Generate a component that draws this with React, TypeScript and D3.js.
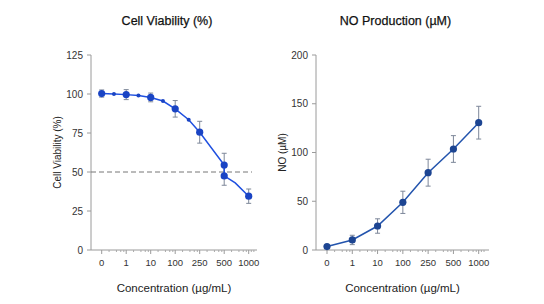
import React from "react";
import * as d3 from "d3";

// dose categories shared by both panels (evenly spaced on x)
const doses = ["0", "1", "10", "100", "250", "500", "1000"];

// cell viability (%), positions are in dose-index units
const viabPos = [0, 0.5, 1, 1.5, 2, 2.5, 3, 3.55, 4, 5, 5, 5.45, 6];
const viabMean = [100.3, 100, 99.6, 99, 97.8, 95.5, 90.5, 83.5, 75.5, 54.5, 47.5, 43, 34.5];
const viabSd = [2.3, 0, 3.2, 0, 2.8, 0, 5.3, 0, 7, 7.5, 6, 0, 4.6];
const viabKind = ["main", "sub", "main", "sub", "main", "sub", "main", "sub", "main", "main", "main", "none", "main"];
const viabTicks = [0, 25, 50, 75, 100, 125];

// nitric oxide release (µM)
const noPos = [0, 1, 2, 3, 4, 5, 6];
const noMean = [3.5, 10.3, 24.6, 48.9, 79.3, 103.6, 130.6];
const noSd = [1, 4.8, 7.4, 11.4, 13.8, 13.7, 16.8];
const noKind = ["main", "main", "main", "main", "main", "main", "main"];
const noTicks = [0, 50, 100, 150, 200];

const font = "'Liberation Sans', Arial, Helvetica, sans-serif";
const minorFrac = [2, 4, 6, 8].map((v) => Math.log10(v));

type PanelProps = {
  title: string;
  yLabel: string;
  axisX: number;
  axisEnd: number;
  x0: number;
  x1: number;
  yMax: number;
  yTicks: number[];
  pos: number[];
  mean: number[];
  sd: number[];
  kind: string[];
  lineColor: string;
  dotColor: string;
  threshold?: number;
};

function Panel(p: PanelProps) {
  const top = 55;
  const bottom = 250;
  const x = d3.scaleLinear().domain([0, doses.length - 1]).range([p.x0, p.x1]);
  const y = d3.scaleLinear().domain([0, p.yMax]).range([bottom, top]);
  const pts = p.pos.map((v, i) => ({ x: v, y: p.mean[i], sd: p.sd[i], kind: p.kind[i] }));
  const line = d3
    .line<{ x: number; y: number }>()
    .x((d) => x(d.x))
    .y((d) => y(d.y));

  const minor: number[] = [];
  for (let i = 0; i < doses.length - 1; i++) minorFrac.forEach((f) => minor.push(i + f));
  minor.push(...minorFrac.slice(0, 2).map((f) => doses.length - 1 + f * 0.35));

  const cx = (p.axisX + p.axisEnd) / 2;
  return (
    <g fontFamily={font}>
      <text x={cx - 7} y={25} textAnchor="middle" fontSize={12.5} fontWeight={400} fill="#111" stroke="#111" strokeWidth={0.25}>
        {p.title}
      </text>
      {/* y axis */}
      <line x1={p.axisX} x2={p.axisX} y1={top} y2={bottom} stroke="#9a9a9a" />
      {p.yTicks.map((t) => (
        <g key={t} transform={`translate(${p.axisX},${y(t)})`}>
          <line x1={-4} x2={0} stroke="#9a9a9a" />
          <text x={-8} dy="0.35em" textAnchor="end" fontSize={10} fill="#333">
            {t}
          </text>
        </g>
      ))}
      <text
        transform={`translate(${p.axisX - 30},${(top + bottom) / 2}) rotate(-90)`}
        textAnchor="middle"
        fontSize={10}
        fill="#222"
      >
        {p.yLabel}
      </text>
      {/* x axis */}
      <line x1={p.axisX} x2={p.axisEnd} y1={bottom} y2={bottom} stroke="#9a9a9a" />
      {minor.map((m, i) => (
        <line key={i} x1={x(m)} x2={x(m)} y1={bottom} y2={bottom + 2} stroke="#aaa" />
      ))}
      {doses.map((d, i) => (
        <g key={d} transform={`translate(${x(i)},${bottom})`}>
          <line y1={0} y2={4} stroke="#9a9a9a" />
          <text y={16} textAnchor="middle" fontSize={9.5} fill="#333">
            {d}
          </text>
        </g>
      ))}
      <text x={cx} y={292} textAnchor="middle" fontSize={11.5} fill="#222">
        Concentration (µg/mL)
      </text>
      {p.threshold !== undefined && (
        <line
          x1={p.axisX}
          x2={p.axisEnd - 5}
          y1={y(p.threshold)}
          y2={y(p.threshold)}
          stroke="#777"
          strokeDasharray="5,3"
        />
      )}
      {/* error bars */}
      {pts
        .filter((d) => d.sd > 0)
        .map((d, i) => (
          <g key={i} stroke="#7d8799" strokeWidth={1}>
            <line x1={x(d.x)} x2={x(d.x)} y1={y(d.y - d.sd)} y2={y(d.y + d.sd)} />
            <line x1={x(d.x) - 2.5} x2={x(d.x) + 2.5} y1={y(d.y - d.sd)} y2={y(d.y - d.sd)} />
            <line x1={x(d.x) - 2.5} x2={x(d.x) + 2.5} y1={y(d.y + d.sd)} y2={y(d.y + d.sd)} />
          </g>
        ))}
      <path d={line(pts) ?? ""} fill="none" stroke={p.lineColor} strokeWidth={1.5} />
      {pts
        .filter((d) => d.kind !== "none")
        .map((d, i) => (
          <circle
            key={i}
            cx={x(d.x)}
            cy={y(d.y)}
            r={d.kind === "main" ? 3.6 : 2}
            fill={p.dotColor}
          />
        ))}
    </g>
  );
}

export default function App() {
  return (
    <svg width={544} height={304} style={{ position: "absolute", left: 0, top: 0, background: "#fff" }}>
      <rect width={544} height={304} fill="#fff" />
      <Panel
        title="Cell Viability (%)"
        yLabel="Cell Viability (%)"
        axisX={91}
        axisEnd={257}
        x0={101.7}
        x1={248.7}
        yMax={125}
        yTicks={viabTicks}
        pos={viabPos}
        mean={viabMean}
        sd={viabSd}
        kind={viabKind}
        lineColor="#1f50e0"
        dotColor="#1a44c4"
        threshold={50}
      />
      <Panel
        title="NO Production (µM)"
        yLabel="NO (µM)"
        axisX={316}
        axisEnd={489}
        x0={327}
        x1={478.7}
        yMax={200}
        yTicks={noTicks}
        pos={noPos}
        mean={noMean}
        sd={noSd}
        kind={noKind}
        lineColor="#2354ad"
        dotColor="#1d4592"
      />
    </svg>
  );
}
